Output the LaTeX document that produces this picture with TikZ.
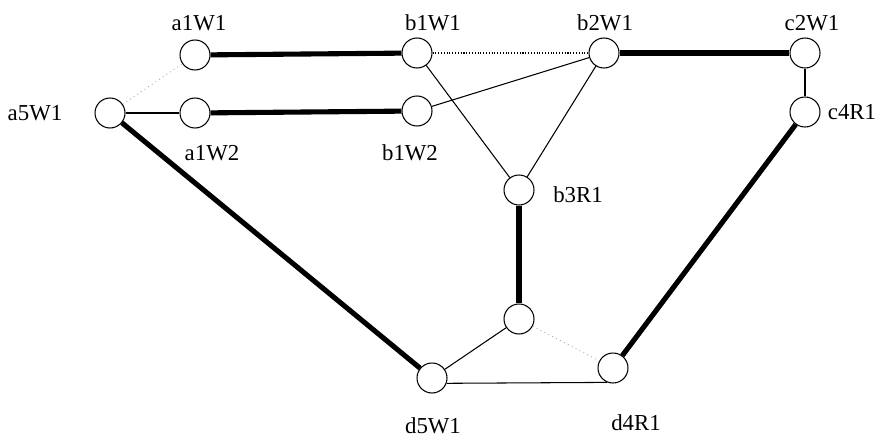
\documentclass[tikz,border=0pt]{standalone}
\usepackage{fontspec}
\setmainfont{Liberation Serif}
\usetikzlibrary{positioning}

\begin{document}
\begin{tikzpicture}[
  x=0.02cm, y=-0.02cm,
  site/.style={draw, circle, fill=white, minimum size=0.6cm, inner sep=0pt, line width=0.6pt},
  lbl/.style={font=\fontsize{13}{15}\selectfont, inner sep=0pt},
  heavy/.style={line width=2.9pt},
  light/.style={line width=0.6pt},
  faint/.style={line width=0.5pt, dotted, gray!70}
]
\useasboundingbox (0,0) rectangle (878,439);

% sites
\node[site] (a1W1) at (195,55) {};
\node[site] (b1W1) at (417,53) {};
\node[site] (b2W1) at (604,53) {};
\node[site] (c2W1) at (805,53) {};
\node[site] (a5W1) at (110,113) {};
\node[site] (a1W2) at (195,113) {};
\node[site] (b1W2) at (417,111) {};
\node[site] (c4R1) at (805,112) {};
\node[site] (b3R1) at (519,190) {};
\node[site] (hub)  at (519,319) {};
\node[site] (d5W1) at (432,378) {};
\node[site] (d4R1) at (613,368) {};

% labels
\node[lbl] at (199,23)  {a1W1};
\node[lbl] at (433,23)  {b1W1};
\node[lbl] at (605,23)  {b2W1};
\node[lbl] at (812,23)  {c2W1};
\node[lbl] at (35,113)  {a5W1};
\node[lbl] at (212,153) {a1W2};
\node[lbl] at (410,153) {b1W2};
\node[lbl] at (852,112) {c4R1};
\node[lbl] at (578,195) {b3R1};
\node[lbl] at (433,426) {d5W1};
\node[lbl] at (636,423) {d4R1};

% links
\draw[heavy] (a1W1) -- (b1W1);
\draw[line width=0.6pt, densely dotted] (b1W1) -- (b2W1);
\draw[heavy] (b2W1) -- (c2W1);
\draw[light] (c2W1) -- (c4R1);
\draw[faint] (a5W1) -- (a1W1);
\draw[light] (a5W1) -- (a1W2);
\draw[heavy] (a1W2) -- (b1W2);
\draw[light] (b1W2) -- (b2W1);
\draw[light] (b1W1) -- (b3R1);
\draw[light] (b2W1) -- (b3R1);
\draw[heavy] (b3R1) -- (hub);
\draw[heavy] (a5W1) -- (d5W1);
\draw[heavy] (c4R1) -- (d4R1);
\draw[light] (hub) -- (d5W1);
\draw[faint] (hub) -- (d4R1);
\draw[light] (d5W1.-20) -- (d4R1.-112);
\end{tikzpicture}
\end{document}
